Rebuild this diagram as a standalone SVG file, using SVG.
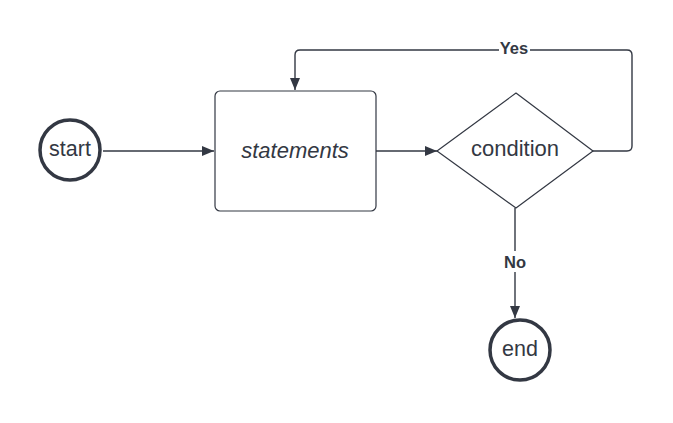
<svg xmlns="http://www.w3.org/2000/svg" width="673" height="423" viewBox="0 0 673 423">
  <defs>
    <marker id="arrow" viewBox="0 0 12 10" refX="12" refY="5" markerWidth="12" markerHeight="10" markerUnits="userSpaceOnUse" orient="auto">
      <path d="M0,0 L12,5 L0,10 Z" fill="#333843"/>
    </marker>
  </defs>
  <style>
    .terminal { fill: #ffffff; stroke: #333843; stroke-width: 3.5; }
    .shape { fill: #ffffff; stroke: #333843; stroke-width: 1.2; }
    .edge { fill: none; stroke: #333843; stroke-width: 1.4; }
    .label { font-family: "Liberation Sans", Arial, sans-serif; fill: #333843; text-anchor: middle; dominant-baseline: central; }
    .edge-label { font-family: "Liberation Sans", Arial, sans-serif; font-weight: bold; font-size: 16.5px; fill: #333843; text-anchor: middle; dominant-baseline: central; }
  </style>
  <rect width="673" height="423" fill="#ffffff"/>

  <g id="connectors">
    <path class="edge" d="M103,151 H214" marker-end="url(#arrow)"/>
    <path class="edge" d="M376,151 H437" marker-end="url(#arrow)"/>
    <path class="edge" d="M593,151 H627 Q632,151 632,146 V55 Q632,50 627,50 H300 Q295,50 295,55 V90" marker-end="url(#arrow)"/>
    <path class="edge" d="M515,208 V318" marker-end="url(#arrow)"/>
    <rect x="499" y="40" width="31" height="18" fill="#ffffff"/>
    <text class="edge-label" x="514" y="48">Yes</text>
    <rect x="502" y="251" width="26" height="21" fill="#ffffff"/>
    <text class="edge-label" x="515" y="262">No</text>
  </g>

  <g id="start">
    <circle class="terminal" cx="70" cy="150" r="30"/>
    <text class="label" x="70" y="149" font-size="21.5">start</text>
  </g>

  <g id="statements">
    <rect class="shape" x="215" y="91" width="161" height="120" rx="5"/>
    <text class="label" x="295" y="150" font-size="22" font-style="italic">statements</text>
  </g>

  <g id="condition">
    <path class="shape" d="M516,93 L593,151 L516,208 L437,151 Z" stroke-linejoin="round"/>
    <text class="label" x="515" y="148" font-size="22">condition</text>
  </g>

  <g id="end">
    <circle class="terminal" cx="520" cy="350" r="30"/>
    <text class="label" x="520" y="349" font-size="21.5">end</text>
  </g>
</svg>
